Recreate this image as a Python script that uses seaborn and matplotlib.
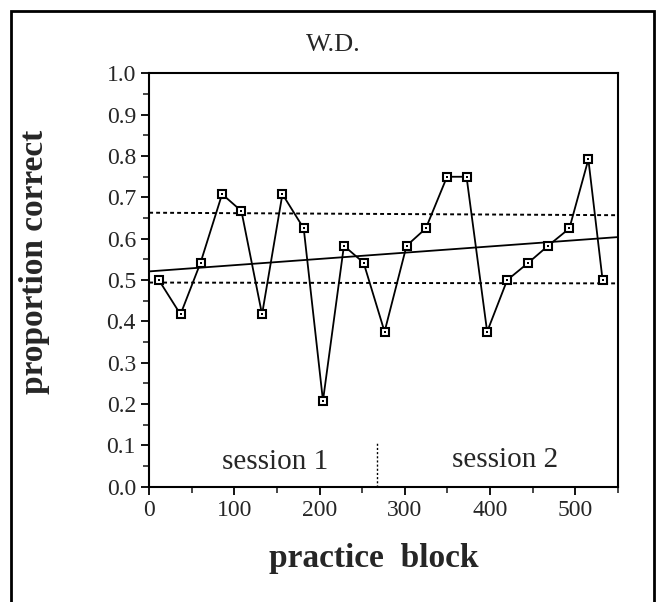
import matplotlib
matplotlib.use("Agg")
import matplotlib.pyplot as plt
import seaborn as sns
import pandas as pd
from matplotlib.patches import Rectangle

# data
block = [11.4, 36.8, 60.3, 85.6, 108.3, 132.5, 156.4, 181.4, 204.0, 228.6, 251.7, 276.3,
         302.1, 324.7, 349.6, 372.5, 396.7, 420.2, 445.1, 468.2, 493.2, 515.5, 532.2]
prop_correct = [0.500, 0.417, 0.542, 0.708, 0.667, 0.417, 0.708, 0.625, 0.208, 0.583, 0.542, 0.375,
                0.583, 0.625, 0.750, 0.750, 0.375, 0.500, 0.542, 0.583, 0.625, 0.792, 0.500]

fit_x = [0, 550]
fit_y = [0.521, 0.604]
upper_x = [0, 550]
upper_y = [0.663, 0.657]
lower_x = [0, 550]
lower_y = [0.494, 0.492]
session_split = 267

sns.set_style("ticks")
plt.rcParams['font.family'] = ['Liberation Serif', 'DejaVu Serif']

df = pd.DataFrame({'block': block, 'prop': prop_correct})

fig = plt.figure(figsize=(6.6, 6.02), dpi=100)
ax = fig.add_axes([0.226, 0.1915, 0.710, 0.6865])

# bounds and regression line
sns.lineplot(x=upper_x, y=upper_y, ax=ax, color='black', lw=1.4, linestyle=(0, (2, 1.6)))
sns.lineplot(x=lower_x, y=lower_y, ax=ax, color='black', lw=1.4, linestyle=(0, (2, 1.6)))
sns.lineplot(x=fit_x, y=fit_y, ax=ax, color='black', lw=1.3)

# data series
sns.lineplot(data=df, x='block', y='prop', ax=ax, color='black', lw=1.3,
             marker='s', markersize=6.3, markerfacecolor='white', markeredgecolor='black',
             markeredgewidth=1.5, zorder=5)
sns.scatterplot(data=df, x='block', y='prop', ax=ax, color='black', s=2, marker='s',
                linewidth=0, zorder=6)

# session divider
ax.plot([session_split, session_split], [0, 0.105], color='black', lw=1.0, linestyle=(0, (1.5, 1.5)))
ax.text(148, 0.06, 'session 1', ha='center', va='center', fontsize=21)
ax.text(418, 0.065, 'session 2', ha='center', va='center', fontsize=21)

ax.set_xlim(0, 550)
ax.set_ylim(0, 1.0)
ax.set_xticks([0, 100, 200, 300, 400, 500])
ax.set_xticks(range(50, 551, 100), minor=True)
ax.set_yticks([i / 10 for i in range(11)])
ax.set_yticklabels([f"{i / 10:.1f}" for i in range(11)])
ax.set_yticks([i / 20 for i in range(1, 20, 2)], minor=True)
ax.tick_params(axis='both', which='major', length=6, width=1.3, labelsize=17, color='black',
               direction='out', right=False, top=False)
ax.tick_params(axis='both', which='minor', length=4, width=1.2, direction='out')
for s in ax.spines.values():
    s.set_visible(True)
    s.set_linewidth(1.5)
    s.set_color('black')

ax.set_xlabel('practice  block', fontsize=24, fontweight='bold')
ax.xaxis.set_label_coords(0.48, -0.135)
ax.set_ylabel('proportion correct', fontsize=24, fontweight='bold')
ax.yaxis.set_label_coords(-0.211, 0.545)
fig.text(333 / 660, 1 - 45 / 602, 'W.D.', ha='center', va='center', fontsize=19)

# frame around the panel
fig.patches.append(Rectangle((11 / 660, -0.02), 643 / 660, 1 - 11 / 602 + 0.02,
                             transform=fig.transFigure, fill=False, lw=2, edgecolor='black'))

fig.savefig('out.png', dpi=100)
